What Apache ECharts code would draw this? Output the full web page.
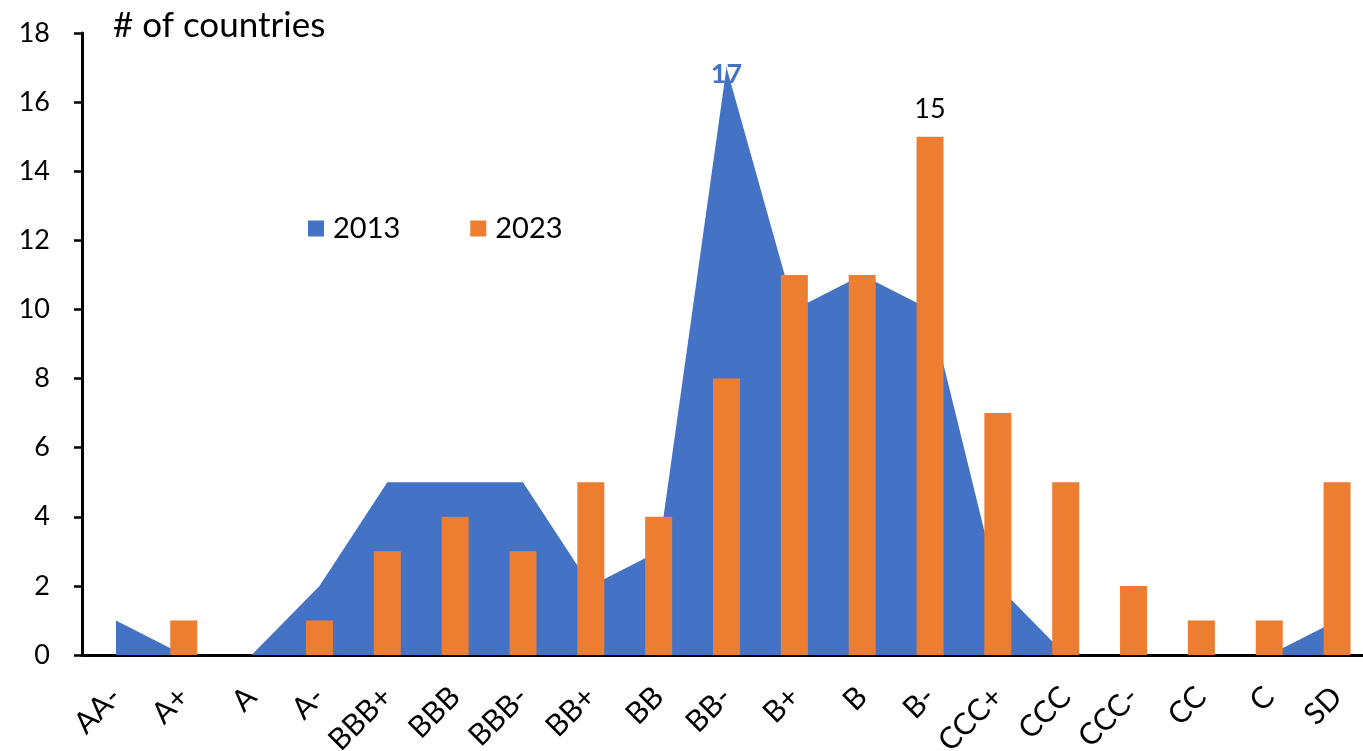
<!DOCTYPE html>
<html>
<head>
<meta charset="utf-8">
<script src="https://cdn.jsdelivr.net/npm/echarts@6/dist/echarts.min.js"></script>
<style>
html,body{margin:0;padding:0;background:#fff;}
#chart{width:1363px;height:751px;}
</style>
</head>
<body>
<div id="chart"></div>
<script>
const categories = ['AA-','A+','A','A-','BBB+','BBB','BBB-','BB+','BB','BB-','B+','B','B-','CCC+','CCC','CCC-','CC','C','SD'];
const values2013 = [1,0,0,2,5,5,5,2,3,17,10,11,10,2,0,0,0,0,1];
const values2023 = [0,1,0,1,3,4,3,5,4,8,11,11,15,7,5,2,1,1,5];
const labeled2013 = 'BB-';
const labeled2023 = 'B-';
const yTicks = {min:0, max:18, interval:2};

const FONT = 'Lato';
const BLUE = '#4472C4';
const ORANGE = '#ED7D31';

const chart = echarts.init(document.getElementById('chart'));

const data2013 = values2013.map((v,i)=> categories[i]===labeled2013 ? {
  value:v,
  symbol:'circle', symbolSize:1,
  label:{show:true, position:'top', offset:[0,26], color:BLUE, fontSize:27, fontFamily:FONT, fontWeight:'bold', formatter:'{c}'}
} : v);
const data2023 = values2023.map((v,i)=> categories[i]===labeled2023 ? {
  value:v,
  label:{show:true, position:'top', distance:14, color:'#000', fontSize:27, fontFamily:FONT, formatter:'{c}'}
} : v);

chart.setOption({
  animation:false,
  textStyle:{fontFamily:FONT},
  graphic:[{type:'text', left:113, top:8, style:{text:'# of countries', fontSize:35, fontFamily:FONT, fill:'#000'}}],
  legend:{
    left:303, top:209, icon:'rect', itemWidth:16, itemHeight:16, itemGap:70,
    textStyle:{fontSize:29, fontFamily:FONT, color:'#000', padding:[0,0,0,4]},
    data:['2013','2023']
  },
  grid:{left:82, right:-8, top:33, bottom:96, containLabel:false, outerBoundsMode:'none'},
  xAxis:{
    type:'category', data:categories, boundaryGap:true,
    axisLine:{lineStyle:{color:'#000', width:3}},
    axisTick:{show:false},
    axisLabel:{rotate:45, fontSize:30, fontFamily:FONT, color:'#000', margin:37, interval:0}
  },
  yAxis:{
    type:'value', min:yTicks.min, max:yTicks.max, interval:yTicks.interval,
    axisLine:{show:true, lineStyle:{color:'#000', width:3}},
    axisTick:{show:true, length:8, lineStyle:{color:'#000', width:2.5}},
    splitLine:{show:false},
    axisLabel:{fontSize:27, fontFamily:FONT, color:'#000', margin:32}
  },
  series:[
    {name:'2013', type:'line', data:data2013, symbol:'none', z:1,
     itemStyle:{color:BLUE}, lineStyle:{width:0, color:BLUE}, areaStyle:{color:BLUE, opacity:1}},
    {name:'2023', type:'bar', data:data2023, barWidth:27, z:3,
     itemStyle:{color:ORANGE}}
  ]
});
</script>
</body>
</html>
